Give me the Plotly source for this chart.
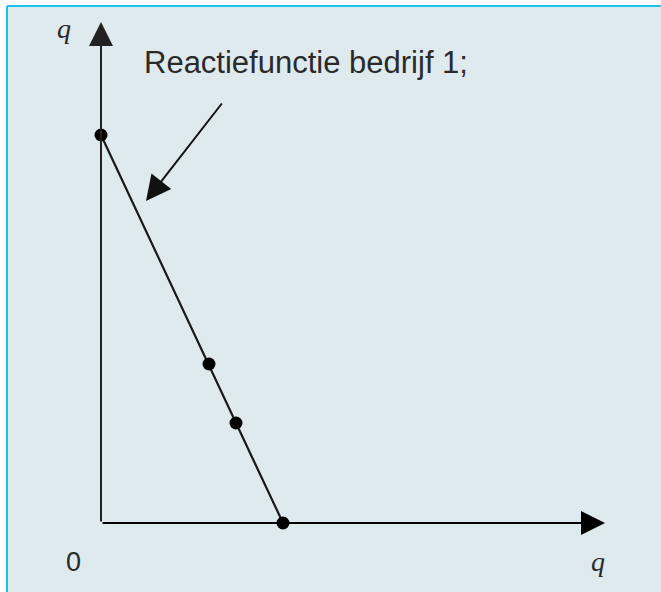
import plotly.graph_objects as go

# Reaction function points (q2 on x, q1 on y), in chart units
q2_points = [0, 108, 135, 182]
q1_points = [388, 159, 100, 0]

# axis extents (arrow tips)
x_axis_end = 504
y_axis_end = 501

label_text = "Reactiefunctie bedrijf 1;"
axis_label = "q"
origin_label = "0"

bg = "#dfeaef"
border = "#19c3ea"

fig = go.Figure()

fig.add_trace(go.Scatter(
    x=q2_points, y=q1_points, mode="lines+markers",
    line=dict(color="#1a1a1a", width=2.2),
    marker=dict(color="#000000", size=13),
    showlegend=False, hoverinfo="skip", cliponaxis=False,
))

annotations = [
    # y axis with arrow
    dict(x=0, y=y_axis_end, ax=0, ay=0, xref="x", yref="y", axref="x", ayref="y",
         showarrow=True, arrowhead=2, arrowsize=2.4, arrowwidth=2, arrowcolor="#222222", text=""),
    # x axis with arrow
    dict(x=x_axis_end, y=0, ax=0, ay=0, xref="x", yref="y", axref="x", ayref="y",
         showarrow=True, arrowhead=2, arrowsize=2.4, arrowwidth=2, arrowcolor="#000000", text=""),
    # pointer arrow
    dict(x=45, y=322, ax=122, ay=421, xref="x", yref="y", axref="x", ayref="y",
         showarrow=True, arrowhead=2, arrowsize=2.5, arrowwidth=2, arrowcolor="#111111", text=""),
    dict(x=41, y=461, xref="x", yref="y", text=label_text, showarrow=False,
         xanchor="left", yanchor="middle",
         font=dict(family="Liberation Sans, Arial", size=31, color="#2a2a2a")),
    dict(x=-37, y=495, xref="x", yref="y", text="<i>" + axis_label + "</i>", showarrow=False,
         xanchor="center", yanchor="middle",
         font=dict(family="Liberation Serif, Times New Roman", size=28, color="#2a2a2a")),
    dict(x=497, y=-38, xref="x", yref="y", text="<i>" + axis_label + "</i>", showarrow=False,
         xanchor="center", yanchor="middle",
         font=dict(family="Liberation Serif, Times New Roman", size=28, color="#2a2a2a")),
    dict(x=-28, y=-39, xref="x", yref="y", text=origin_label, showarrow=False,
         xanchor="center", yanchor="middle",
         font=dict(family="Liberation Sans, Arial", size=27, color="#2a2a2a")),
]

shapes = [
    dict(type="rect", xref="paper", yref="paper", x0=7/661, x1=1, y0=0, y1=1-6/592,
         fillcolor=bg, line=dict(width=0), layer="below"),
    dict(type="line", xref="paper", yref="paper", x0=7/661, x1=1, y0=1-6/592, y1=1-6/592,
         line=dict(color=border, width=2), layer="below"),
    dict(type="line", xref="paper", yref="paper", x0=7/661, x1=7/661, y0=0, y1=1-6/592,
         line=dict(color=border, width=2), layer="below"),
]

fig.update_layout(
    width=661, height=592, autosize=False,
    margin=dict(l=0, r=0, t=0, b=0),
    paper_bgcolor="#ffffff", plot_bgcolor="rgba(0,0,0,0)",
    xaxis=dict(range=[-101, 560], visible=False, fixedrange=True),
    yaxis=dict(range=[-69, 523], visible=False, fixedrange=True),
    annotations=annotations, shapes=shapes,
)

fig.write_html(
    "out.html",
    config={"displayModeBar": False, "staticPlot": True},
    post_script="document.body.style.margin='0';document.body.style.overflow='hidden';",
)
